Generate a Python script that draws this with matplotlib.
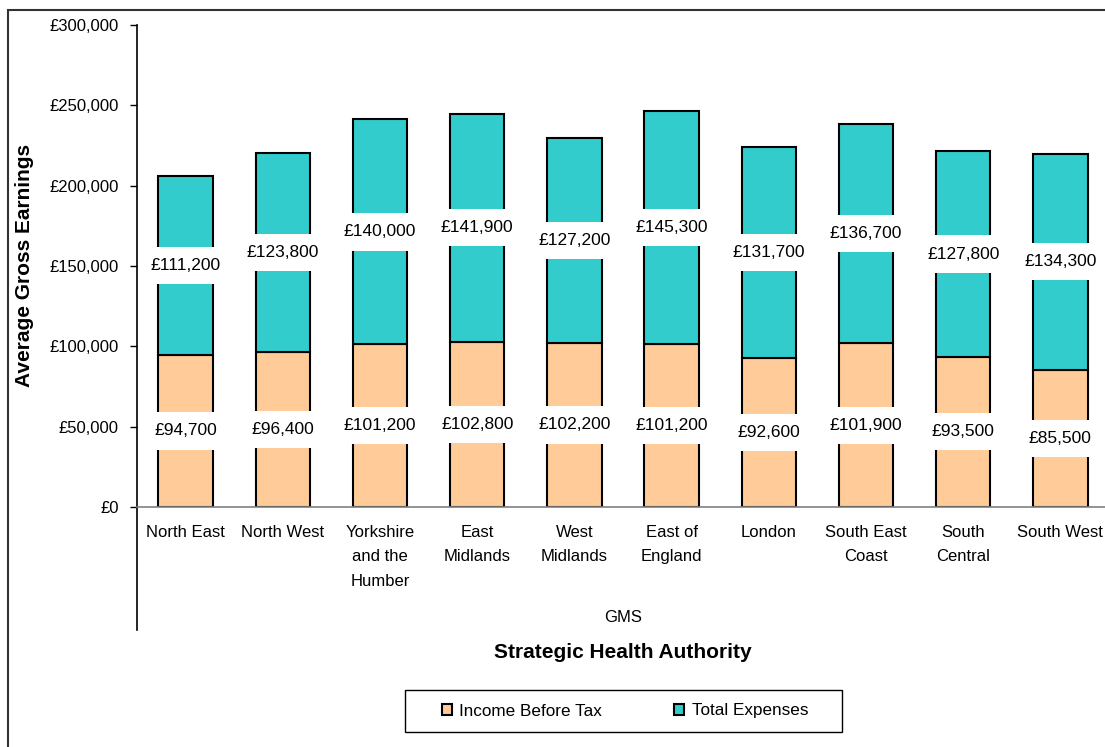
import matplotlib
matplotlib.use('Agg')

import matplotlib.pyplot as plt
from matplotlib.patches import Rectangle
from matplotlib.lines import Line2D
from matplotlib.ticker import FuncFormatter

plt.rcParams['font.family'] = ['Liberation Sans', 'DejaVu Sans']

# Datos del gráfico
regions = ['North East', 'North West', 'Yorkshire\nand the\nHumber', 'East\nMidlands',
           'West\nMidlands', 'East of\nEngland', 'London', 'South East\nCoast',
           'South\nCentral', 'South West']
income = [94700, 96400, 101200, 102800, 102200, 101200, 92600, 101900, 93500, 85500]
expenses = [111200, 123800, 140000, 141900, 127200, 145300, 131700, 136700, 127800, 134300]

peach = '#FFCC99'
teal = '#33CCCC'

W, H = 1105, 747
fig = plt.figure(figsize=(W / 100, H / 100), dpi=100)
ax = fig.add_axes([137 / W, 1 - 507 / H, 972 / W, 482 / H])

x = range(len(regions))
b1 = ax.bar(x, income, width=0.56, color=peach, edgecolor='black', linewidth=1.5)
b2 = ax.bar(x, expenses, width=0.56, bottom=income, color=teal, edgecolor='black', linewidth=1.5)

# Etiquetas de los valores en el centro de cada segmento
box = dict(facecolor='white', edgecolor='none', pad=8)
for i in x:
    ax.text(i, income[i] / 2, f'£{income[i]:,}', ha='center', va='center',
            fontsize=12.5, bbox=box)
    ax.text(i, income[i] + expenses[i] / 2, f'£{expenses[i]:,}', ha='center', va='center',
            fontsize=12.5, bbox=box)

ax.set_xlim(-0.5, len(regions) - 0.5)
ax.set_ylim(0, 300000)
ax.set_yticks(range(0, 300001, 50000))
ax.yaxis.set_major_formatter(FuncFormatter(lambda v, p: f'£{int(v):,}'))
ax.set_xticks(list(x))
ax.set_xticklabels(regions, linespacing=1.78)
ax.tick_params(axis='x', length=0, pad=13, labelsize=12)
ax.tick_params(axis='y', length=5, width=1, pad=8, labelsize=12, direction='out')

for s in ['top', 'right']:
    ax.spines[s].set_visible(False)
ax.spines['bottom'].set_color('#808080')
ax.spines['bottom'].set_linewidth(1.2)
ax.spines['left'].set_linewidth(1.2)

# Línea vertical del eje que baja bajo las categorías
ax.add_line(Line2D([0, 0], [0, -123 / 482], transform=ax.transAxes, color='black',
                   linewidth=1.2, clip_on=False))

fig.text(623 / W, 1 - 617 / H, 'GMS', ha='center', va='center', fontsize=12)
fig.text(623 / W, 1 - 653 / H, 'Strategic Health Authority', ha='center', va='center',
         fontsize=15, fontweight='bold')
fig.text(25 / W, 1 - 265 / H, 'Average Gross Earnings', ha='center', va='center',
         rotation=90, fontsize=15, fontweight='bold')

# Leyenda con marco propio
fig.patches.append(Rectangle((405 / W, 1 - 732 / H), 437 / W, 42 / H, transform=fig.transFigure,
                             facecolor='white', edgecolor='black', linewidth=1))
fig.legend([b1, b2], ['Income Before Tax', 'Total Expenses'], loc='center',
           bbox_to_anchor=(625 / W, 1 - 711 / H), ncol=2, frameon=False, fontsize=12.3,
           handlelength=0.6, handleheight=0.6, handletextpad=0.45, columnspacing=4.2)

# Borde del gráfico
fig.patches.append(Rectangle((8 / W, -0.1), 1.2, 1.1 - 10 / H, transform=fig.transFigure,
                             facecolor='none', edgecolor='#333333', linewidth=1.5))

plt.savefig('out.png', dpi=100)
plt.close()
